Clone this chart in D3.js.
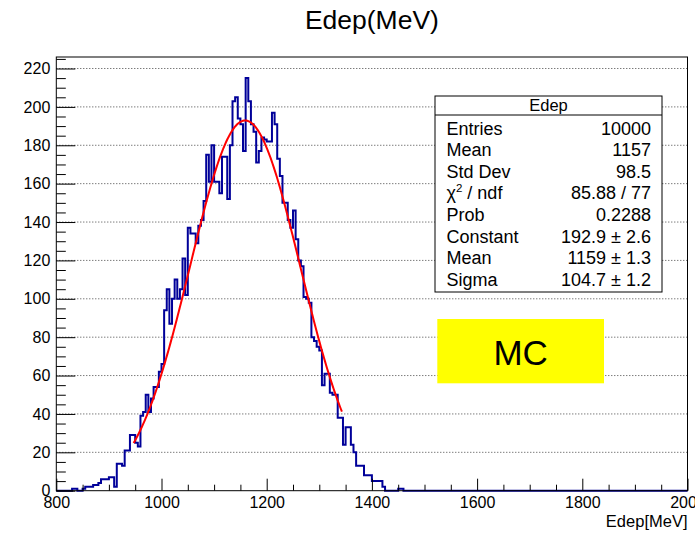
<!DOCTYPE html>
<html>
<head>
<meta charset="utf-8">
<script src="https://cdn.jsdelivr.net/npm/d3@7"></script>
<style>
  html, body { margin: 0; padding: 0; background: #fff; }
  svg { display: block; font-family: "Liberation Sans", Arial, Helvetica, sans-serif; }
</style>
</head>
<body>
<svg id="chart" width="695" height="533"></svg>
<script>
// Histogram binning (MeV)
const xRange = [800, 2000];
const binWidth = 5;
const countsStart = 825;
// Bin contents starting at countsStart, one value per 5 MeV bin; all other bins are empty
const counts = [
  0, 1, 1, 0, 0, 1, 2, 2, 2, 3, 3, 4, 6, 6, 6, 7, 7, 2,          // 825 - 910
  14, 14, 13, 21, 21, 29, 29, 25, 23, 39, 41, 50, 41, 48, 54, 54, 62, 66, // 915 - 1000
  94, 105, 87, 100, 110, 100, 105, 121, 102, 137, 134, 134, 129, 138, 141, 151, 175, 161, 180, 161, // 1005 - 1100
  161, 155, 174, 174, 152, 180, 203, 205, 194, 191, 177, 215, 203, 191, 187, 171, 177, 184, 183, 182, // 1105 - 1200
  182, 197, 191, 173, 164, 150, 150, 141, 137, 146, 131, 120, 117, 101, 100, 98, 80, 78, 75, 73, // 1205 - 1300
  55, 61, 61, 51, 50, 50, 38, 38, 24, 33, 33, 24, 20, 13, 13, 13, 8, 8, 8, 5, 5, 5, 5, 2, 0, 0, 0, 0, 0, 1, 1 // 1305 - 1455
];

// Axis ticks
const xMajorTicks = [800, 1000, 1200, 1400, 1600, 1800, 2000];
const yMajorTicks = [0, 20, 40, 60, 80, 100, 120, 140, 160, 180, 200, 220];
const yMax = 226;

// Gaussian fit result
const fitConstant = 192.9;
const fitMean = 1159;
const fitSigma = 104.7;
const fitRange = [947, 1343];

// Statistics box rows
const statTitle = "Edep";
const statLabels = ["Entries", "Mean", "Std Dev", "chi2", "Prob", "Constant", "Mean", "Sigma"];
const statValues = ["10000", "1157", "98.5", "85.88 / 77", "0.2288", "192.9 \u00b1 2.6", "1159 \u00b1 1.3", "104.7 \u00b1 1.2"];

const svg = d3.select("#chart");
const W = 695, H = 533;
const frame = { left: 56.3, right: 687.5, top: 57, bottom: 490.7 };

const x = d3.scaleLinear().domain(xRange).range([frame.left, frame.right]);
const y = d3.scaleLinear().domain([0, yMax]).range([frame.bottom, frame.top]);

svg.append("rect").attr("width", W).attr("height", H).attr("fill", "#fff");

// Horizontal dotted grid
svg.append("g")
  .selectAll("line")
  .data(yMajorTicks.filter(d => d > 0))
  .join("line")
  .attr("x1", frame.left).attr("x2", frame.right)
  .attr("y1", d => y(d)).attr("y2", d => y(d))
  .attr("stroke", "#444")
  .attr("stroke-width", 1)
  .attr("stroke-dasharray", "1,2");

// Histogram outline as steps over the full x range
const nBins = (xRange[1] - xRange[0]) / binWidth;
const allBins = d3.range(nBins).map(i => {
  const lo = xRange[0] + i * binWidth;
  const k = (lo - countsStart) / binWidth;
  return { lo, hi: lo + binWidth, c: (k >= 0 && k < counts.length) ? counts[k] : 0 };
});
const pts = [[x(xRange[0]), y(0)]];
allBins.forEach(b => {
  pts.push([x(b.lo), y(b.c)]);
  pts.push([x(b.hi), y(b.c)]);
});
pts.push([x(xRange[1]), y(0)]);
svg.append("path")
  .attr("d", d3.line()(pts))
  .attr("fill", "none")
  .attr("stroke", "#000099")
  .attr("stroke-width", 2)
  .attr("stroke-linejoin", "miter");

// Fitted Gaussian
const gaus = v => fitConstant * Math.exp(-0.5 * Math.pow((v - fitMean) / fitSigma, 2));
const fitPts = d3.range(fitRange[0], fitRange[1] + 0.001, 2).map(v => [x(v), y(gaus(v))]);
svg.append("path")
  .attr("d", d3.line().curve(d3.curveLinear)(fitPts))
  .attr("fill", "none")
  .attr("stroke", "#ff0000")
  .attr("stroke-width", 2);

// Frame
svg.append("rect")
  .attr("x", frame.left).attr("y", frame.top)
  .attr("width", frame.right - frame.left).attr("height", frame.bottom - frame.top)
  .attr("fill", "none").attr("stroke", "#000").attr("stroke-width", 1);

const tickFont = 16;

// X axis: major ticks with labels, minor ticks every 50
const xAxisG = svg.append("g").attr("transform", `translate(0,${frame.bottom})`);
xAxisG.call(d3.axisBottom(x).tickValues(xMajorTicks).tickSize(-12).tickPadding(6).tickFormat(d3.format("d")));
xAxisG.append("g").call(d3.axisBottom(x).tickValues(d3.range(800, 2001, 50).filter(v => v % 200 !== 0)).tickSize(-6).tickFormat(""));
xAxisG.selectAll(".domain").remove();
xAxisG.selectAll("line").attr("stroke", "#000");
xAxisG.selectAll("text").attr("font-size", tickFont).attr("fill", "#000").attr("font-family", null);

// Y axis: major ticks every 20, minor every 5
const yAxisG = svg.append("g").attr("transform", `translate(${frame.left},0)`);
yAxisG.call(d3.axisLeft(y).tickValues(yMajorTicks).tickSize(-19).tickPadding(6).tickFormat(d3.format("d")));
yAxisG.append("g").call(d3.axisLeft(y).tickValues(d3.range(0, yMax, 5).filter(v => v % 20 !== 0)).tickSize(-9.5).tickFormat(""));
yAxisG.selectAll(".domain").remove();
yAxisG.selectAll("line").attr("stroke", "#000");
yAxisG.selectAll("text").attr("font-size", tickFont).attr("fill", "#000").attr("font-family", null);

// Axis title
svg.append("text")
  .attr("x", frame.right).attr("y", 527)
  .attr("text-anchor", "end")
  .attr("font-size", 16.5)
  .text("Edep[MeV]");

// Histogram title
svg.append("text")
  .attr("x", (frame.left + frame.right) / 2).attr("y", 29)
  .attr("text-anchor", "middle")
  .attr("font-size", 26.5)
  .text("Edep(MeV)");

// Statistics box
const sb = { x: 435, y: 96, w: 227, h: 196 };
const statG = svg.append("g");
statG.append("rect")
  .attr("x", sb.x).attr("y", sb.y).attr("width", sb.w).attr("height", sb.h)
  .attr("fill", "#fff").attr("stroke", "#000").attr("stroke-width", 1);
statG.append("line")
  .attr("x1", sb.x).attr("x2", sb.x + sb.w)
  .attr("y1", 115).attr("y2", 115)
  .attr("stroke", "#000");
statG.append("text")
  .attr("x", sb.x + sb.w / 2).attr("y", 110.5)
  .attr("text-anchor", "middle").attr("font-size", 16.5)
  .text(statTitle);
const rowY = i => 134.5 + i * 21.6;
statLabels.forEach((lab, i) => {
  const t = statG.append("text")
    .attr("x", 446.5).attr("y", rowY(i))
    .attr("font-size", 18);
  if (lab === "chi2") {
    t.append("tspan").text("\u03c7");
    t.append("tspan").attr("font-size", 11.5).attr("dy", -7.5).text("2");
    t.append("tspan").attr("dy", 7.5).text(" / ndf");
  } else {
    t.text(lab);
  }
});
statValues.forEach((val, i) => {
  statG.append("text")
    .attr("x", 651).attr("y", rowY(i))
    .attr("text-anchor", "end").attr("font-size", 18)
    .text(val);
});

// Sample label
svg.append("rect")
  .attr("x", 437.3).attr("y", 319).attr("width", 166.7).attr("height", 64.3)
  .attr("fill", "#ffff00");
svg.append("text")
  .attr("x", 520.7).attr("y", 365)
  .attr("text-anchor", "middle").attr("font-size", 35)
  .text("MC");
</script>
</body>
</html>
